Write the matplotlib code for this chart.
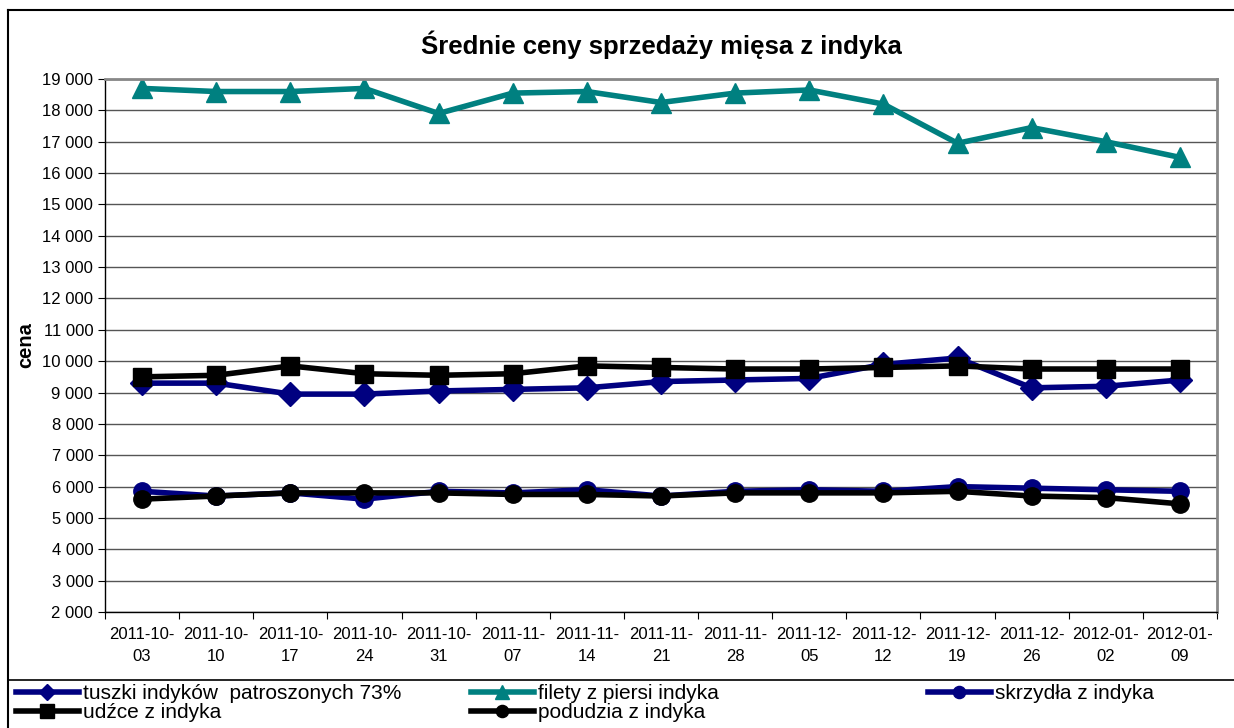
import numpy as np
import matplotlib
matplotlib.use("Agg")
import matplotlib.pyplot as plt
from matplotlib.lines import Line2D
from matplotlib.ticker import FuncFormatter
from matplotlib import font_manager

dates = ["2011-10-\n03", "2011-10-\n10", "2011-10-\n17", "2011-10-\n24", "2011-10-\n31",
         "2011-11-\n07", "2011-11-\n14", "2011-11-\n21", "2011-11-\n28", "2011-12-\n05",
         "2011-12-\n12", "2011-12-\n19", "2011-12-\n26", "2012-01-\n02", "2012-01-\n09"]

tuszki = [9300, 9300, 8950, 8950, 9050, 9100, 9150, 9350, 9400, 9450, 9900, 10100, 9150, 9200, 9400]
filety = [18700, 18600, 18600, 18700, 17900, 18550, 18600, 18250, 18550, 18650, 18200, 16950, 17450, 17000, 16500]
skrzydla = [5850, 5700, 5800, 5600, 5850, 5800, 5900, 5700, 5850, 5900, 5850, 6000, 5950, 5900, 5850]
udzce = [9500, 9550, 9850, 9600, 9550, 9600, 9850, 9800, 9750, 9750, 9800, 9850, 9750, 9750, 9750]
podudzia = [5600, 5700, 5800, 5800, 5800, 5750, 5750, 5700, 5800, 5800, 5800, 5850, 5700, 5650, 5450]

NAVY = "#000080"
TEAL = "#008080"

plt.rcParams["font.family"] = ["Liberation Sans", "DejaVu Sans"]

# condensed face for the legend if one is installed
installed = {f.name for f in font_manager.fontManager.ttflist}
narrow = [f for f in ["Liberation Sans Narrow", "DejaVu Sans Condensed"] if f in installed]
leg_family = narrow[0] if narrow else "Liberation Sans"
leg_size = 16 if narrow else 15

fig = plt.figure(figsize=(12.34, 7.28), dpi=100)
ax = fig.add_axes([0.0851, 0.1593, 0.9011, 0.7322])

x = np.arange(len(dates))
lw = 4
series = [
    (tuszki, NAVY, "D", 12, "tuszki indyków  patroszonych 73%"),
    (filety, TEAL, "^", 14, "filety z piersi indyka"),
    (skrzydla, NAVY, "o", 12.5, "skrzydła z indyka"),
    (udzce, "black", "s", 13.5, "udźce z indyka"),
    (podudzia, "black", "o", 12.5, "podudzia z indyka"),
]
handles = []
for vals, col, mk, ms, lab in series:
    h, = ax.plot(x, vals, color=col, lw=lw, marker=mk, ms=ms, mec=col, mfc=col,
                 label=lab, solid_joinstyle="miter")
    handles.append(h)

ax.set_xlim(-0.5, len(dates) - 0.5)
ax.set_ylim(2000, 19000)
ax.set_yticks(np.arange(2000, 19001, 1000))
ax.yaxis.set_major_formatter(FuncFormatter(lambda v, p: f"{int(v):,}".replace(",", " ")))
ax.grid(axis="y", color="#555555", lw=1)
ax.set_axisbelow(True)

ax.set_xticks(np.arange(-0.5, len(dates)), [""] * (len(dates) + 1))
ax.set_xticks(x, dates, minor=True)
ax.tick_params(axis="x", which="major", length=5, direction="out")
ax.tick_params(axis="x", which="minor", length=0, pad=11, labelsize=12)
for t in ax.get_xticklabels(minor=True):
    t.set_linespacing(1.55)
ax.tick_params(axis="y", length=5, labelsize=12)

for s in ["top", "right"]:
    ax.spines[s].set_color("#888888")
    ax.spines[s].set_linewidth(2)
for s in ["left", "bottom"]:
    ax.spines[s].set_color("black")
    ax.spines[s].set_linewidth(1)

ax.set_ylabel("cena", fontsize=14.5, fontweight="bold", labelpad=5)
ax.set_title("Średnie ceny sprzedaży mięsa z indyka", fontsize=18.5, fontweight="bold", pad=18)

# outer frame and legend separator
H, W = 728.0, 1234.0
fig.add_artist(Line2D([8 / W, 1], [1 - 9.5 / H, 1 - 9.5 / H], color="black", lw=1.5))
fig.add_artist(Line2D([8 / W, 8 / W], [0, 1 - 9.5 / H], color="black", lw=1.5))
fig.add_artist(Line2D([8 / W, 1], [1 - 680 / H, 1 - 680 / H], color="black", lw=1.2))

leg_font = {"family": leg_family, "size": leg_size}
cols = [([handles[0], handles[3]], 15),
        ([handles[1], handles[4]], 470),
        ([handles[2]], 927)]
for hs, px in cols:
    fig.legend(handles=hs, loc="upper left", bbox_to_anchor=(px / W, 1 - 683 / H),
               frameon=False, prop=leg_font, handlelength=3.0, handletextpad=0.2,
               labelspacing=0.0, borderpad=0.05, borderaxespad=0, markerscale=0.7)

fig.savefig("out.png", dpi=100)
